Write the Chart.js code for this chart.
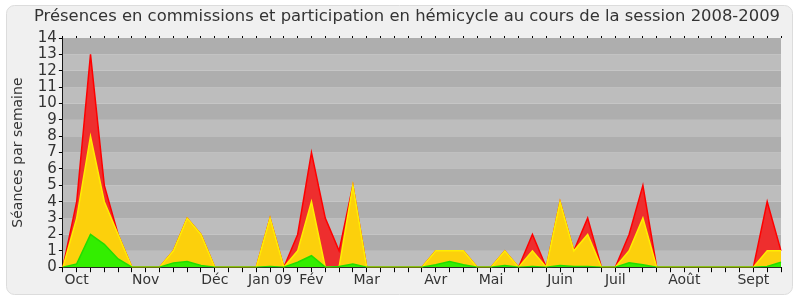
<!DOCTYPE html>
<html>
<head>
<meta charset="utf-8">
<script src="https://cdn.jsdelivr.net/npm/chart.js@4/dist/chart.umd.min.js"></script>
<style>
  html, body { margin: 0; padding: 0; background: #fff; }
  #wrap { width: 800px; height: 300px; }
</style>
</head>
<body>
<div id="wrap"><canvas id="chart" width="800" height="300"></canvas></div>
<script>
// Weekly values, session 2008-2009 (53 weeks)
const greenTop = [0, 0.2, 2, 1.4, 0.5, 0, 0, 0, 0.25, 0.35, 0.1, 0, 0, 0, 0, 0.05, 0, 0.3, 0.7, 0,
  0.05, 0.2, 0, 0, 0, 0, 0, 0.15, 0.35, 0.15, 0, 0, 0.1, 0, 0.05, 0, 0.1, 0.05, 0.05, 0,
  0, 0.27, 0.15, 0, 0, 0, 0, 0, 0, 0, 0, 0.05, 0.3];
const yellowTop = [0, 3, 8, 4, 2, 0, 0, 0, 1, 3, 2, 0, 0, 0, 0, 3, 0, 1, 4, 0,
  0, 5, 0, 0, 0, 0, 0, 1, 1, 1, 0, 0, 1, 0, 1, 0, 4, 1, 2, 0,
  0, 1, 3, 0, 0, 0, 0, 0, 0, 0, 0, 1, 1];
const redTop = [0, 4, 13, 5, 2, 0, 0, 0, 1, 3, 2, 0, 0, 0, 0, 3, 0, 2, 7, 3,
  1, 5, 0, 0, 0, 0, 0, 1, 1, 1, 0, 0, 1, 0, 2, 0, 4, 1, 3, 0,
  0, 2, 5, 0, 0, 0, 0, 0, 0, 0, 0, 4, 1];

// Month labels and the week they sit under
const monthNames = ['Oct', 'Nov', 'Déc', 'Jan 09', 'Fév', 'Mar', 'Avr', 'Mai', 'Juin', 'Juil', 'Août', 'Sept'];
const monthWeeks = [1, 6, 11, 15, 18, 22, 27, 31, 36, 40, 45, 50];

const labels = redTop.map((_, i) => {
  const k = monthWeeks.indexOf(i);
  return k >= 0 ? monthNames[k] : '';
});

const TITLE = 'Présences en commissions et participation en hémicycle au cours de la session 2008-2009';
const FONT = "'DejaVu Sans', Verdana, sans-serif";

// Rounded light frame behind everything, title on top of it
const framePlugin = {
  id: 'frame',
  beforeDraw(chart) {
    const c = chart.ctx;
    c.save();
    c.fillStyle = '#f0f0f0';
    c.strokeStyle = '#dcdcdc';
    c.lineWidth = 1;
    c.beginPath();
    c.roundRect(6.5, 5.5, 786, 289, 8);
    c.fill();
    c.stroke();

    c.font = `16.4px ${FONT}`;
    c.fillStyle = '#333';
    c.textAlign = 'center';
    c.textBaseline = 'middle';
    c.fillText(TITLE, 407, 17);
    c.restore();
  }
};

// Alternating grey bands, one per unit on the y scale
const bandsPlugin = {
  id: 'bands',
  beforeDatasetsDraw(chart) {
    const { ctx: c, chartArea: a, scales: { y } } = chart;
    c.save();
    for (let v = 0; v < 14; v++) {
      const top = y.getPixelForValue(v + 1);
      const bot = y.getPixelForValue(v);
      c.fillStyle = v % 2 ? '#aeaeae' : '#bdbdbd';
      c.fillRect(a.left, top, a.right - a.left, bot - top);
    }
    c.restore();
  }
};

const area = (data, fill, line) => ({
  data,
  backgroundColor: fill,
  borderColor: line,
  borderWidth: 1.5,
  fill: 'origin',
  pointRadius: 0,
  tension: 0
});

new Chart(document.getElementById('chart'), {
  type: 'line',
  plugins: [framePlugin, bandsPlugin],
  data: {
    labels,
    datasets: [
      area(greenTop, '#33ee00', '#22dd00'),
      area(yellowTop, '#fcd00c', '#ffee00'),
      area(redTop, '#ee2e2e', '#ff0000')
    ]
  },
  options: {
    responsive: false,
    animation: false,
    layout: { padding: { left: 10, right: 19, top: 36, bottom: 11 } },
    scales: {
      x: {
        offset: false,
        grid: { drawOnChartArea: false, color: '#000', tickLength: 5 },
        border: { color: '#000' },
        ticks: {
          autoSkip: false, maxRotation: 0, padding: 0,
          color: '#333', font: { family: FONT, size: 14 }
        }
      },
      x2: {
        position: 'top',
        type: 'category',
        labels,
        offset: false,
        grid: { drawOnChartArea: false, color: '#000', tickLength: 2 },
        border: { display: false },
        ticks: { display: false }
      },
      y: {
        min: 0, max: 14,
        grid: { drawOnChartArea: false, color: '#000', tickLength: 4 },
        border: { color: '#000' },
        ticks: {
          stepSize: 1, padding: 2, autoSkip: false,
          color: '#333', font: { family: FONT, size: 15 }
        },
        title: {
          display: true, text: 'Séances par semaine',
          color: '#333', font: { family: FONT, size: 14 }, padding: { top: 0, bottom: 9 }
        }
      }
    },
    plugins: {
      legend: { display: false },
      tooltip: { enabled: false },
      title: { display: false }
    }
  }
});
</script>
</body>
</html>
